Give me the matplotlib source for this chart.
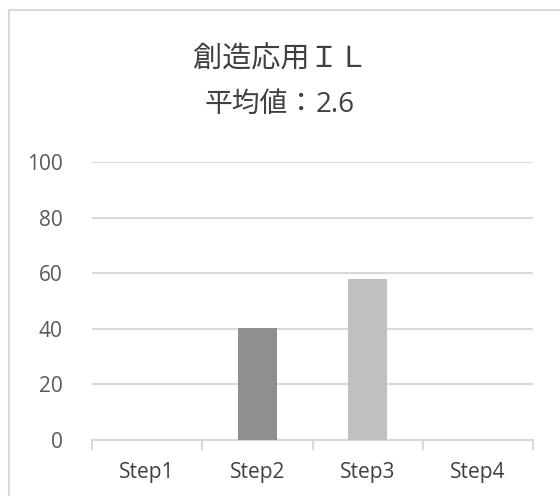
import matplotlib.pyplot as plt
from matplotlib.patches import Rectangle

plt.rcParams['font.family'] = ['Open Sans', 'Noto Sans CJK JP', 'DejaVu Sans']

steps = ['Step1', 'Step2', 'Step3', 'Step4']
values = [0, 40.4, 57.9, 0]
bar_colors = ['#8e8f91', '#8e8f91', '#bfc0c2', '#bfc0c2']
title_line1 = '創造応用ＩＬ'
title_line2 = '平均値：'
title_value = '2.6'
yticks = [0, 20, 40, 60, 80, 100]

W, H = 560, 496
fig = plt.figure(figsize=(W / 100, H / 100), dpi=100)
ax = fig.add_axes([92 / W, (H - 440) / H, 441 / W, 278 / H])

x = list(range(len(steps)))
ax.bar(x, values, width=0.36, color=bar_colors, zorder=3)

ax.set_xlim(-0.5, 3.5)
ax.set_ylim(0, 100)
ax.set_yticks(yticks)
ax.set_xticks(x)
ax.set_xticklabels(steps)

grid_c = '#d9d9d9'
ax.grid(axis='y', color=grid_c, linewidth=1.5, zorder=0)
for s in ['top', 'right', 'left']:
    ax.spines[s].set_visible(False)
ax.spines['bottom'].set_color(grid_c)
ax.spines['bottom'].set_linewidth(1.5)

ax.tick_params(axis='y', length=0, pad=21, labelsize=15, labelcolor='#595959')
ax.tick_params(axis='x', length=0, pad=16, labelsize=15, labelcolor='#404040')

# category boundary ticks below the axis
ax.set_xticks([-0.5, 0.5, 1.5, 2.5, 3.5], minor=True)
ax.tick_params(axis='x', which='minor', length=7, width=1.5, color=grid_c, direction='out')

cjk = ['Noto Sans CJK JP', 'DejaVu Sans']
fig.text(0.5, (H - 59) / H, title_line1, ha='center', va='center',
         fontsize=21, color='#404040', family=cjk)
t2 = fig.text(0.5, (H - 104) / H, title_line2, ha='right', va='center',
              fontsize=20, color='#404040', family=cjk)
fig.text(0.5, (H - 105) / H, title_value, ha='left', va='center',
         fontsize=20, color='#404040', family=['Open Sans', 'DejaVu Sans'])

# shift the split title so the whole second line is centred
fig.canvas.draw()
r = fig.canvas.get_renderer()
w1 = t2.get_window_extent(r).width
w2 = fig.texts[-1].get_window_extent(r).width
shift = (w1 - w2) / 2 / W
t2.set_x(0.5 + shift)
fig.texts[-1].set_x(0.5 + shift)

# chart border
fig.patches.append(Rectangle((9 / W, -0.1), 1.2, (H - 10) / H + 0.1,
                             transform=fig.transFigure, fill=False,
                             edgecolor=grid_c, linewidth=1.5))

fig.savefig('out.png', dpi=100)
